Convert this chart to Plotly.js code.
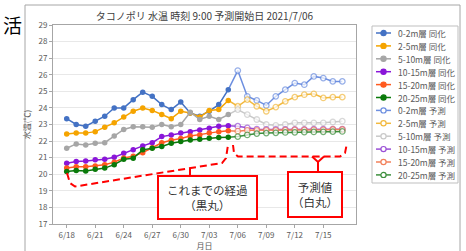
<!DOCTYPE html>
<html><head><meta charset="utf-8">
<script src="https://cdn.plot.ly/plotly-3.0.1.min.js"></script>
<style>html,body{margin:0;padding:0;background:#fff;}#chart{width:466px;height:251px;}</style>
</head><body><div id="chart"></div>
<script>
// ---- data ----
const obsDates = ['2021-06-18','2021-06-19','2021-06-20','2021-06-21','2021-06-22','2021-06-23','2021-06-24','2021-06-25','2021-06-26','2021-06-27','2021-06-28','2021-06-29','2021-06-30','2021-07-01','2021-07-02','2021-07-03','2021-07-04','2021-07-05'];
const fcDates = ['2021-07-06','2021-07-07','2021-07-08','2021-07-09','2021-07-10','2021-07-11','2021-07-12','2021-07-13','2021-07-14','2021-07-15','2021-07-16','2021-07-17'];
const tickDates = ['2021-06-18','2021-06-21','2021-06-24','2021-06-27','2021-06-30','2021-07-03','2021-07-06','2021-07-09','2021-07-12','2021-07-15'];
const tickLabels = ['6/18','6/21','6/24','6/27','6/30','7/03','7/06','7/09','7/12','7/15'];
const layers = ['0-2m層','2-5m層','5-10m層','10-15m層','15-20m層','20-25m層'];

const obs0_2   = [23.35,23.0,22.9,23.2,23.5,24.0,24.0,24.5,24.95,24.7,24.2,23.9,24.35,23.7,23.5,23.8,24.2,25.1];
const obs2_5   = [22.42,22.48,22.48,22.57,22.84,23.1,23.45,23.8,24.0,23.85,23.6,23.35,23.8,23.7,23.45,23.85,23.9,24.45];
const obs5_10  = [21.57,21.83,21.77,21.87,21.9,22.3,22.7,22.87,22.87,22.84,23.0,22.87,23.0,23.74,23.3,23.5,23.3,23.6];
const obs10_15 = [20.67,20.77,20.8,20.87,20.9,21.03,21.27,21.47,21.71,21.9,22.27,22.37,22.48,22.57,22.67,22.78,22.9,22.92];
const obs15_20 = [20.38,20.45,20.45,20.5,20.57,20.73,20.98,21.08,21.3,21.6,21.9,22.05,22.15,22.3,22.37,22.48,22.57,22.63];
const obs20_25 = [20.17,20.23,20.2,20.3,20.37,20.58,20.9,20.97,21.47,21.57,21.67,21.87,21.97,22.07,22.11,22.17,22.21,22.23];

const fc0_2   = [26.25,24.7,24.45,24.15,24.7,25.1,25.5,25.4,25.9,25.8,25.6,25.6];
const fc2_5   = [24.1,24.5,24.1,23.8,24.05,24.4,24.65,24.8,24.85,24.6,24.65,24.65];
const fc5_10  = [23.9,23.6,23.3,23.0,22.95,23.0,23.1,23.1,23.1,23.1,23.15,23.2];
const fc10_15 = [22.9,22.8,22.72,22.7,22.7,22.7,22.7,22.7,22.72,22.72,22.72,22.72];
const fc15_20 = [22.6,22.65,22.65,22.65,22.65,22.66,22.67,22.67,22.68,22.68,22.7,22.7];
const fc20_25 = [22.27,22.37,22.45,22.48,22.5,22.52,22.53,22.54,22.55,22.56,22.57,22.58];

// ---- styles ----
const obsSeries = [obs0_2,obs2_5,obs5_10,obs10_15,obs15_20,obs20_25];
const fcSeries  = [fc0_2,fc2_5,fc5_10,fc10_15,fc15_20,fc20_25];
const obsColors = ['#4472c4','#f5a400','#a6a6a6','#8a16d9','#ff5a1f','#0a7a0a'];
const fcColors  = ['#6d8fe0','#f2b93f','#c9c9c9','#9a4fd6','#f2805a','#3d8f3d'];
const FONT = '"Noto Sans CJK JP", "Noto Sans", sans-serif';

const L = 53, R = 356, T = 25, B = 224;
const px = x => (x - L) / (R - L);
const py = y => (B - y) / (B - T);

const traces = [];
for (let i = 0; i < 6; i++) {
  const fx = [obsDates[obsDates.length-1]].concat(fcDates);
  const fy = [obsSeries[i][obsSeries[i].length-1]].concat(fcSeries[i]);
  traces.push({
    x: fx, y: fy, type: 'scatter', mode: 'lines+markers', showlegend: false,
    name: layers[i] + ' 予測',
    line: {color: fcColors[i], width: 1.5},
    marker: {symbol: 'circle', color: '#ffffff', size: fy.map((v,k)=> k===0 ? 0 : 5.5), line: {color: fcColors[i], width: 1.3}}
  });
}
for (let i = 0; i < 6; i++) {
  traces.push({
    x: obsDates, y: obsSeries[i], type: 'scatter', mode: 'lines+markers', showlegend: false,
    name: layers[i] + ' 同化',
    line: {color: obsColors[i], width: 1.5},
    marker: {symbol: 'circle', color: obsColors[i], size: 5.5}
  });
}

const shapes = [];
const annotations = [];
// outer border
shapes.push({type:'rect', xref:'paper', yref:'paper', x0:px(25), x1:px(460), y0:py(5), y1:py(262), line:{color:'#a6a6a6', width:1}, fillcolor:'rgba(0,0,0,0)', layer:'below'});
// legend box
shapes.push({type:'rect', xref:'paper', yref:'paper', x0:px(372), x1:px(458), y0:py(26), y1:py(183), line:{color:'#bfbfbf', width:1}, fillcolor:'#ffffff'});
const legNames = layers.map(n=>n+' 同化').concat(layers.map(n=>n+' 予測'));
const legColors = obsColors.concat(fcColors);
for (let i = 0; i < 12; i++) {
  const yy = 33 + i * 12.9;
  shapes.push({type:'line', xref:'paper', yref:'paper', x0:px(376), x1:px(391), y0:py(yy), y1:py(yy), line:{color:legColors[i], width:1.5}});
  shapes.push({type:'circle', xref:'paper', yref:'paper', xsizemode:'pixel', ysizemode:'pixel', xanchor:px(383.5), yanchor:py(yy), x0:-2.6, x1:2.6, y0:-2.6, y1:2.6,
    fillcolor: i < 6 ? legColors[i] : '#ffffff', line:{color:legColors[i], width:1.2}});
  annotations.push({xref:'paper', yref:'paper', x:px(396), y:py(yy), xanchor:'left', yanchor:'middle', showarrow:false, text:legNames[i], font:{size:8.5, color:'#595959', family:FONT}});
}
// red dashed brackets
const P = pts => 'M ' + pts.map(p => px(p[0]) + ',' + py(p[1])).join(' L ');
shapes.push({type:'path', xref:'paper', yref:'paper', path: P([[67,173],[70,183],[75,186.5],[222,163],[226,158],[228,145]]), line:{color:'#ff0000', width:2, dash:'7px,4px'}});
shapes.push({type:'path', xref:'paper', yref:'paper', path: P([[190,168],[190,175]]), line:{color:'#ff0000', width:2}});
shapes.push({type:'path', xref:'paper', yref:'paper', path: P([[233,145],[234,153],[238,156.5],[340,156.5],[345,153],[347,143]]), line:{color:'#ff0000', width:2, dash:'7px,4px'}});
shapes.push({type:'path', xref:'paper', yref:'paper', path: P([[312,156.5],[318,162],[324,156.5]]), line:{color:'#ff0000', width:2}});
shapes.push({type:'path', xref:'paper', yref:'paper', path: P([[318,162],[318,171]]), line:{color:'#ff0000', width:2}});
// boxes
annotations.push({xref:'paper', yref:'paper', x:px(207.5), y:py(197.5), xanchor:'center', yanchor:'middle', showarrow:false,
  text:'これまでの経過<br>（黒丸）', width:97, height:41, borderpad:0, bordercolor:'#ff0000', borderwidth:2, bgcolor:'#ffffff',
  font:{size:11.5, color:'#333333', family:FONT}});
annotations.push({xref:'paper', yref:'paper', x:px(315), y:py(194.5), xanchor:'center', yanchor:'middle', showarrow:false,
  text:'予測値<br>（白丸）', width:52, height:43, borderpad:0, bordercolor:'#ff0000', borderwidth:2, bgcolor:'#ffffff',
  font:{size:11.5, color:'#333333', family:FONT}});
// stray text at top-left
annotations.push({xref:'paper', yref:'paper', x:px(1), y:py(24), xanchor:'left', yanchor:'middle', showarrow:false, text:'活', font:{size:19, color:'#000000', family:FONT}});

const layout = {
  width: 466, height: 251,
  margin: {l: L, r: 466 - R, t: T, b: 251 - B, pad: 0},
  paper_bgcolor: '#ffffff', plot_bgcolor: '#ffffff',
  font: {family: FONT, size: 8, color: '#595959'},
  title: {text: 'タコノポリ 水温 時刻 9:00 予測開始日 2021/7/06', x: 0.5, xref: 'paper', xanchor: 'center', y: 1 - 16/251, yref: 'container', yanchor: 'middle', font: {size: 10, color: '#404040', family: FONT}},
  showlegend: false,
  xaxis: {
    type: 'date', range: ['2021-06-16 13:24', '2021-07-18 10:34'],
    tickmode: 'array', tickvals: tickDates, ticktext: tickLabels,
    showgrid: false, zeroline: false, showline: true, linecolor: '#a6a6a6', linewidth: 1, mirror: true,
    ticks: 'outside', ticklen: 3, tickcolor: '#a6a6a6', tickfont: {size: 8, color: '#595959'},
    title: {text: '月日', font: {size: 8, color: '#595959'}, standoff: 2}
  },
  yaxis: {
    range: [17, 29], dtick: 1, tick0: 17,
    showgrid: true, gridcolor: '#e8e8e8', gridwidth: 1, zeroline: false,
    showline: true, linecolor: '#a6a6a6', linewidth: 1, mirror: true,
    ticks: 'outside', ticklen: 3, tickcolor: '#a6a6a6', tickfont: {size: 8, color: '#595959'},
    title: {text: '水温(℃)', font: {size: 8, color: '#595959'}, standoff: 6}
  },
  shapes: shapes,
  annotations: annotations
};
Plotly.newPlot('chart', traces, layout, {displayModeBar: false, staticPlot: true});
</script>
</body></html>
